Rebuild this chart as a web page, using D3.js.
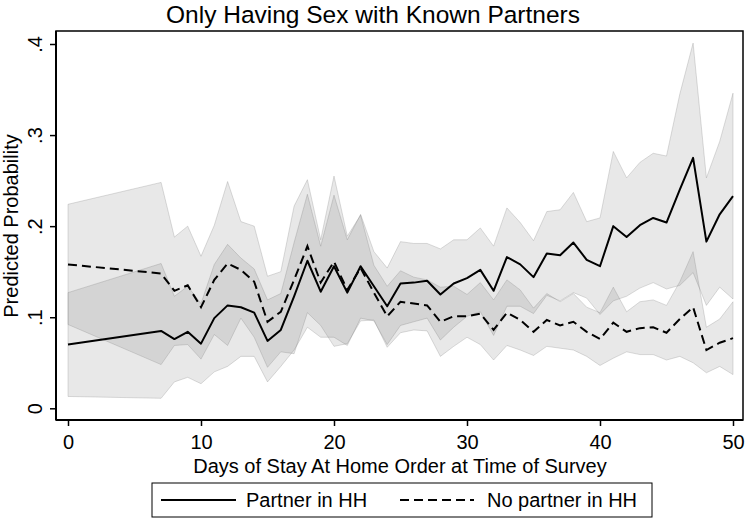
<!DOCTYPE html>
<html>
<head>
<meta charset="utf-8">
<script src="https://cdn.jsdelivr.net/npm/d3@7"></script>
<style>
  body { margin: 0; background: #fff; }
  text { font-family: 'Liberation Sans', Arial, sans-serif; fill: #000; }
</style>
</head>
<body>
<svg id="chart" width="749" height="526"></svg>
<script>
// days of stay at home order (x)
const days = [0, 7, 8, 9, 10, 11, 12, 13, 14, 15, 16, 17, 18, 19, 20, 21, 22, 23, 24, 25,
  26, 27, 28, 29, 30, 31, 32, 33, 34, 35, 36, 37, 38, 39, 40, 41, 42, 43, 44, 45, 46, 47, 48, 49, 50]

// partner in HH: prediction and CI
const partner = [0.070, 0.085, 0.076, 0.084, 0.071, 0.099, 0.113, 0.111, 0.105, 0.074, 0.086, 0.123, 0.162, 0.128,
  0.156, 0.127, 0.156, 0.134, 0.112, 0.137, 0.138, 0.140, 0.125, 0.137, 0.143, 0.152, 0.129, 0.166, 0.158, 0.144,
  0.170, 0.168, 0.182, 0.163, 0.156, 0.200, 0.188, 0.201, 0.209, 0.204, 0.240, 0.275, 0.183, 0.213, 0.233]
const partnerLo = [0.013, 0.011, 0.029, 0.034, 0.027, 0.040, 0.046, 0.057, 0.057, 0.029, 0.046, 0.064, 0.089, 0.078,
  0.078, 0.069, 0.099, 0.096, 0.070, 0.091, 0.095, 0.099, 0.075, 0.089, 0.101, 0.106, 0.080, 0.112, 0.112, 0.104,
  0.124, 0.118, 0.127, 0.121, 0.103, 0.118, 0.123, 0.132, 0.138, 0.131, 0.135, 0.149, 0.113, 0.133, 0.120]
const partnerHi = [0.127, 0.159, 0.123, 0.134, 0.115, 0.158, 0.180, 0.165, 0.153, 0.119, 0.126, 0.182, 0.235, 0.178,
  0.234, 0.185, 0.213, 0.172, 0.154, 0.183, 0.181, 0.181, 0.175, 0.185, 0.185, 0.198, 0.178, 0.220, 0.204, 0.184,
  0.216, 0.218, 0.237, 0.205, 0.209, 0.282, 0.253, 0.270, 0.280, 0.277, 0.345, 0.401, 0.253, 0.293, 0.346]

// no partner in HH: prediction and CI
const noPartner = [0.158, 0.148, 0.129, 0.135, 0.111, 0.141, 0.159, 0.152, 0.139, 0.095, 0.106, 0.141, 0.178, 0.138,
  0.161, 0.130, 0.154, 0.127, 0.101, 0.117, 0.115, 0.113, 0.095, 0.101, 0.101, 0.104, 0.086, 0.105, 0.097, 0.084,
  0.097, 0.091, 0.095, 0.084, 0.076, 0.094, 0.084, 0.088, 0.089, 0.083, 0.098, 0.111, 0.064, 0.072, 0.077]
const noPartnerLo = [0.092, 0.048, 0.069, 0.070, 0.054, 0.081, 0.069, 0.099, 0.078, 0.045, 0.062, 0.060, 0.105, 0.091,
  0.068, 0.071, 0.096, 0.097, 0.067, 0.083, 0.086, 0.085, 0.057, 0.068, 0.078, 0.070, 0.053, 0.069, 0.064, 0.058,
  0.068, 0.066, 0.064, 0.057, 0.047, 0.055, 0.062, 0.059, 0.059, 0.053, 0.057, 0.050, 0.039, 0.046, 0.037]
const noPartnerHi = [0.224, 0.248, 0.188, 0.200, 0.167, 0.201, 0.249, 0.205, 0.200, 0.145, 0.150, 0.222, 0.251, 0.185,
  0.255, 0.189, 0.212, 0.157, 0.134, 0.151, 0.144, 0.141, 0.133, 0.134, 0.125, 0.138, 0.119, 0.141, 0.130, 0.110,
  0.126, 0.117, 0.126, 0.111, 0.105, 0.133, 0.106, 0.117, 0.119, 0.113, 0.139, 0.172, 0.089, 0.098, 0.117]

const xTicks = [0, 10, 20, 30, 40, 50]
const yTicks = [0, 0.1, 0.2, 0.3, 0.4]
const yTickLabels = ['0', '.1', '.2', '.3', '.4']

const svg = d3.select('#chart')

// plot region box
const box = { left: 56, right: 743, top: 31, bottom: 420 }

const x = d3.scaleLinear().domain([0, 50]).range([68, 733])
const y = d3.scaleLinear().domain([0, 0.4]).range([408.3, 44])

const rows = days.map((d, i) => ({
  d,
  p: partner[i], pLo: partnerLo[i], pHi: partnerHi[i],
  n: noPartner[i], nLo: noPartnerLo[i], nHi: noPartnerHi[i]
}))

// confidence bands
const bandP = d3.area().x((r) => x(r.d)).y0((r) => y(r.pLo)).y1((r) => y(r.pHi))
const bandN = d3.area().x((r) => x(r.d)).y0((r) => y(r.nLo)).y1((r) => y(r.nHi))

;[bandP, bandN].forEach((b) => {
  svg.append('path')
    .datum(rows)
    .attr('d', b)
    .attr('fill', 'rgb(78,78,78)')
    .attr('fill-opacity', 0.13)
    .attr('stroke', 'rgb(120,120,120)')
    .attr('stroke-opacity', 0.25)
    .attr('stroke-width', 1)
})

// lines
const lineP = d3.line().x((r) => x(r.d)).y((r) => y(r.p))
const lineN = d3.line().x((r) => x(r.d)).y((r) => y(r.n))

svg.append('path')
  .datum(rows)
  .attr('d', lineP)
  .attr('fill', 'none')
  .attr('stroke', '#000')
  .attr('stroke-width', 2)
  .attr('stroke-linejoin', 'round')

svg.append('path')
  .datum(rows)
  .attr('d', lineN)
  .attr('fill', 'none')
  .attr('stroke', '#000')
  .attr('stroke-width', 2)
  .attr('stroke-dasharray', '9,5')

// frame
svg.append('rect')
  .attr('x', box.left)
  .attr('y', box.top)
  .attr('width', box.right - box.left)
  .attr('height', box.bottom - box.top)
  .attr('fill', 'none')
  .attr('stroke', '#000')
  .attr('stroke-width', 1.5)

// x axis
svg.append('g')
  .attr('transform', `translate(0,${box.bottom})`)
  .call(d3.axisBottom(x).tickValues(xTicks).tickSize(6).tickPadding(9).tickFormat(d3.format('d')))
  .call((g) => g.select('.domain').attr('d', `M${box.left},0H${box.right}`).attr('stroke-width', 2))
  .call((g) => g.selectAll('.tick line').attr('stroke-width', 1.5))
  .call((g) => g.selectAll('.tick text').attr('font-size', 20).attr('font-family', null))

// y axis
svg.append('g')
  .attr('transform', `translate(${box.left},0)`)
  .call(d3.axisLeft(y).tickValues(yTicks).tickSize(6).tickFormat((d, i) => yTickLabels[i]))
  .call((g) => g.select('.domain').attr('d', `M0,${box.top}V${box.bottom}`).attr('stroke-width', 2))
  .call((g) => g.selectAll('.tick line').attr('stroke-width', 1.5))
  .call((g) => g.selectAll('.tick text')
    .attr('font-size', 20)
    .attr('font-family', null)
    .attr('x', null).attr('dy', null)
    .attr('text-anchor', 'middle')
    .attr('transform', 'translate(-14,0) rotate(-90)'))

// titles
svg.append('text')
  .attr('x', 373).attr('y', 23)
  .attr('text-anchor', 'middle')
  .attr('font-size', 24.5)
  .text('Only Having Sex with Known Partners')

svg.append('text')
  .attr('x', 400).attr('y', 473)
  .attr('text-anchor', 'middle')
  .attr('font-size', 20)
  .text('Days of Stay At Home Order at Time of Survey')

svg.append('text')
  .attr('transform', 'translate(18,226) rotate(-90)')
  .attr('text-anchor', 'middle')
  .attr('font-size', 20)
  .text('Predicted Probability')

// legend
const legend = svg.append('g')
legend.append('rect')
  .attr('x', 152).attr('y', 483).attr('width', 500).attr('height', 34)
  .attr('fill', '#fff').attr('stroke', '#000').attr('stroke-width', 1)

const legendItems = [
  { label: 'Partner in HH', dash: null, x0: 161, x1: 236, tx: 246 },
  { label: 'No partner in HH', dash: '9,5', x0: 400, x1: 474, tx: 487 }
]
legendItems.forEach((it) => {
  legend.append('line')
    .attr('x1', it.x0).attr('x2', it.x1).attr('y1', 500).attr('y2', 500)
    .attr('stroke', '#000').attr('stroke-width', 2)
    .attr('stroke-dasharray', it.dash)
  legend.append('text')
    .attr('x', it.tx).attr('y', 507)
    .attr('font-size', 20)
    .text(it.label)
})
</script>
</body>
</html>
